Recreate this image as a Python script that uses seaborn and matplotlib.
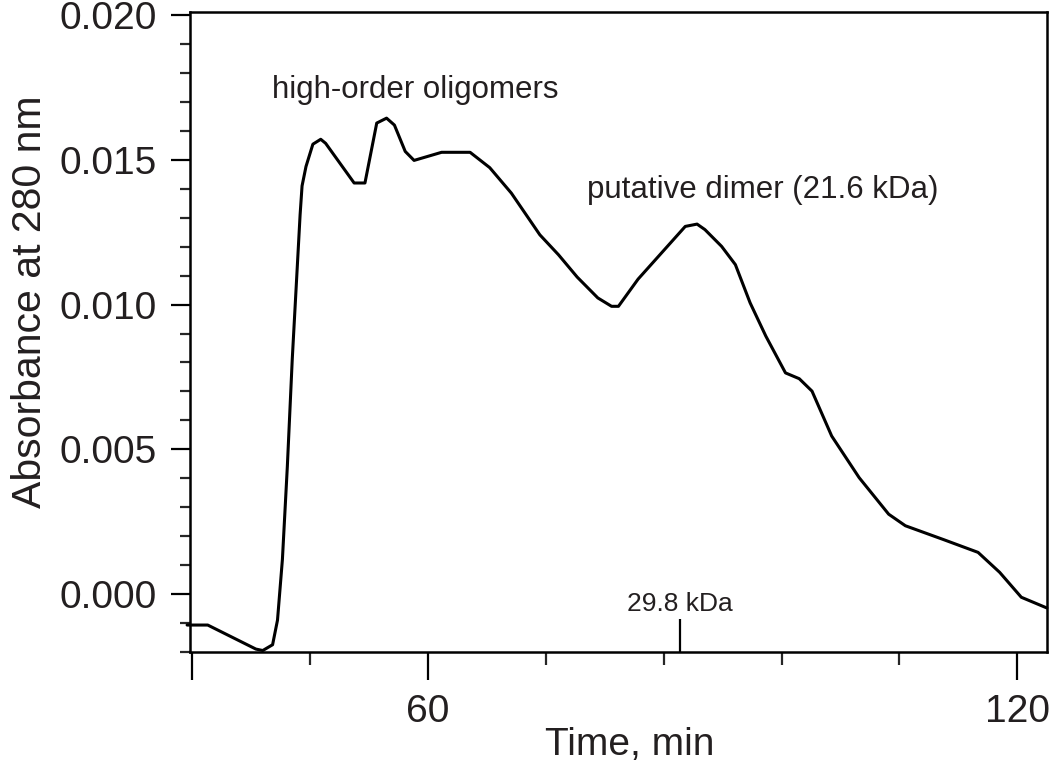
import numpy as np
import pandas as pd
import matplotlib
matplotlib.use("Agg")
import matplotlib.pyplot as plt
import seaborn as sns

# ---- data ----
time_min = [35.5, 37.6, 42.5, 43.2, 44.2, 44.7, 45.2, 45.7, 46.2, 47.0, 47.2, 47.6,
            48.3, 49.1, 49.6, 52.5, 53.6, 54.8, 55.8, 56.6, 57.7, 58.6, 61.4, 64.3,
            66.3, 68.5, 71.4, 73.3, 75.2, 77.3, 78.7, 79.4, 81.4, 86.2, 87.4, 88.2,
            89.9, 91.3, 92.8, 94.4, 96.4, 97.8, 99.1, 101.1, 103.9, 106.9, 108.6,
            112.5, 116.0, 118.2, 120.4, 123.0]
absorbance_milli = [-1.07, -1.07, -1.90, -1.95, -1.75, -0.90, 1.20, 4.40, 8.10, 13.10,
                    14.10, 14.77, 15.54, 15.71, 15.57, 14.20, 14.20, 16.27, 16.44, 16.20,
                    15.29, 14.98, 15.26, 15.26, 14.73, 13.85, 12.41, 11.72, 10.95, 10.23,
                    9.94, 9.94, 10.88, 12.70, 12.78, 12.59, 12.01, 11.38, 10.06, 8.91,
                    7.64, 7.44, 7.01, 5.46, 4.02, 2.76, 2.36, 1.88, 1.44, 0.75, -0.11,
                    -0.48]
absorbance = [v / 1000.0 for v in absorbance_milli]

marker_time = [85.7]          # 29.8 kDa standard
marker_label = ["29.8 kDa"]
peak_labels = ["high-order oligomers", "putative dimer (21.6 kDa)"]

x_major = [36, 60, 120]
x_major_labels = ["", "60", "120"]
x_minor = [48, 72, 84, 96, 108]
y_major = [0.000, 0.005, 0.010, 0.015, 0.020]
y_major_labels = ["0.000", "0.005", "0.010", "0.015", "0.020"]

df = pd.DataFrame({"Time": time_min, "Abs": absorbance})

TXT = "#231f20"
sns.set_style("ticks")
plt.rcParams["font.family"] = ["Liberation Sans", "DejaVu Sans"]

fig = plt.figure(figsize=(10.5, 7.62), dpi=100)
ax = fig.add_axes([0.181, 0.1444, 0.816, 0.8396])

sns.lineplot(data=df, x="Time", y="Abs", ax=ax, sort=False, estimator=None,
             color="black", linewidth=2.2, clip_on=False)

ax.set_xlim(35.8, 123.0)
ax.set_ylim(-0.002, 0.0201)

# 29.8 kDa marker
ax.vlines(marker_time, -0.002, -0.00087, color="black", linewidth=1.6)
ax.text(marker_time[0], -0.00035, marker_label[0], ha="center", va="center",
        fontsize=19, color=TXT)

ax.text(58.7, 0.01742, peak_labels[0], ha="center", va="center", fontsize=22.5, color=TXT)
ax.text(94.1, 0.01396, peak_labels[1], ha="center", va="center", fontsize=22.5, color=TXT)

ax.set_xticks(x_major)
ax.set_xticklabels(x_major_labels)
ax.set_xticks(x_minor, minor=True)
ax.set_yticks(y_major)
ax.set_yticklabels(y_major_labels)
ax.set_yticks(np.round(np.arange(-0.002, 0.0201, 0.001), 4), minor=True)

ax.tick_params(axis="both", which="major", direction="out", width=1.6,
               labelsize=28, colors="black", labelcolor=TXT)
ax.tick_params(axis="y", which="major", length=14, pad=10)
ax.tick_params(axis="x", which="major", length=20, pad=10)
ax.tick_params(axis="y", which="minor", direction="out", length=7, width=1.6)
ax.tick_params(axis="x", which="minor", direction="out", length=9.5, width=1.6)

for s in ax.spines.values():
    s.set_visible(True)
    s.set_linewidth(1.8)
    s.set_color("black")

ax.set_xlabel("Time, min", fontsize=28, color=TXT)
ax.set_ylabel("Absorbance at 280 nm", fontsize=29.5, color=TXT)
ax.xaxis.set_label_coords(0.513, -0.118)
ax.yaxis.set_label_coords(-0.165, 0.547)

fig.savefig("out.png", dpi=100)
